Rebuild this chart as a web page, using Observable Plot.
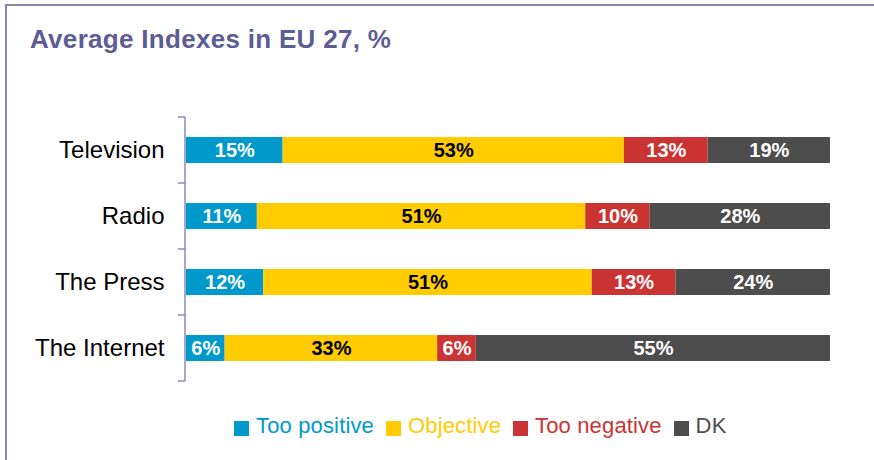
<!DOCTYPE html>
<html>
<head>
<meta charset="utf-8">
<script src="https://cdn.jsdelivr.net/npm/d3@7"></script>
<script src="https://cdn.jsdelivr.net/npm/@observablehq/plot@0.6"></script>
<style>
html, body { margin: 0; padding: 0; width: 874px; height: 460px; overflow: hidden; background: #fff;
  font-family: Arial, "Liberation Sans", sans-serif; }
#frame { position: absolute; left: 5px; top: 4px; width: 1000px; height: 1000px;
  border-top: 2px solid #8686ae; border-left: 2px solid #8686ae; }
#title { position: absolute; left: 30px; top: 26px; font-size: 26px; line-height: 26px; font-weight: bold;
  letter-spacing: 0.3px; color: #5d5d95; white-space: nowrap; }
#chart { position: absolute; left: 0; top: 100px; }
#legend { position: absolute; left: 234px; top: 414px; display: flex; align-items: center; white-space: nowrap; }
.item { display: flex; align-items: center; margin-right: 12px; font-size: 22px; line-height: 23px; letter-spacing: 0.15px; }
.sw { width: 15px; height: 15px; margin-right: 7px; margin-top: 5px; }
</style>
</head>
<body>
<div id="frame"></div>
<div id="title">Average Indexes in EU 27, %</div>
<div id="chart"></div>
<div id="legend"></div>
<script>
const categories = ["Television", "Radio", "The Press", "The Internet"];
const seriesNames = ["Too positive", "Objective", "Too negative", "DK"];
const tooPositive = [15, 11, 12, 6];
const objective = [53, 51, 51, 33];
const tooNegative = [13, 10, 13, 6];
const dk = [19, 28, 24, 55];
const colors = ["#0099cc", "#ffcc00", "#cc3333", "#4d4d4d"];

const seriesValues = [tooPositive, objective, tooNegative, dk];
const data = [];
categories.forEach((c, i) => {
  seriesNames.forEach((s, j) => data.push({category: c, series: s, value: seriesValues[j][i]}));
});

function axisMark(index, scales, values, dimensions) {
  const y = scales.y, x = scales.x;
  const bw = y.bandwidth();
  const step = y(categories[1]) - y(categories[0]);
  const gap = (step - bw) / 2;
  const x0 = x(0) - 1;
  const g = d3.create("svg:g").attr("stroke", "#8a8ab4").attr("stroke-width", 1.5).attr("fill", "none");
  const top = y(categories[0]) - gap;
  const bottom = y(categories[categories.length - 1]) + bw + gap;
  g.append("line").attr("x1", x0).attr("x2", x0).attr("y1", top).attr("y2", bottom);
  const tickYs = categories.map(c => y(c) - gap).concat([bottom]);
  for (const ty of tickYs) {
    g.append("line").attr("x1", x0 - 7).attr("x2", x0).attr("y1", ty).attr("y2", ty);
  }
  return g.node();
}

const stackOpts = {x: "value", y: "category", z: "series"};

const chart = Plot.plot({
  width: 874,
  height: 300,
  marginTop: 16,
  marginBottom: 18,
  marginLeft: 186,
  marginRight: 44,
  style: {fontFamily: "Arial, 'Liberation Sans', sans-serif", background: "transparent"},
  x: {domain: [0, 100], axis: null},
  y: {domain: categories, paddingInner: 0.61, paddingOuter: 0.305, axis: null},
  color: {domain: seriesNames, range: colors},
  marks: [
    Plot.barX(data, {x: "value", y: "category", fill: "series"}),
    Plot.text(data, Plot.stackX({...stackOpts,
      text: d => d.series === "Objective" ? "" : d.value + "%",
      fill: "white", fontSize: 20, fontWeight: "bold"})),
    Plot.text(data, Plot.stackX({...stackOpts,
      text: d => d.series === "Objective" ? d.value + "%" : "",
      fill: "black", fontSize: 20, fontWeight: "bold"})),
    Plot.text(categories, {x: () => 0, y: d => d, text: d => d, textAnchor: "end", dx: -22,
      fontSize: 24, fill: "black"}),
    axisMark
  ]
});
document.getElementById("chart").appendChild(chart);

const legend = document.getElementById("legend");
seriesNames.forEach((s, i) => {
  const item = document.createElement("div");
  item.className = "item";
  const sw = document.createElement("span");
  sw.className = "sw";
  sw.style.background = colors[i];
  const t = document.createElement("span");
  t.textContent = s;
  t.style.color = colors[i];
  item.appendChild(sw);
  item.appendChild(t);
  legend.appendChild(item);
});
</script>
</body>
</html>
